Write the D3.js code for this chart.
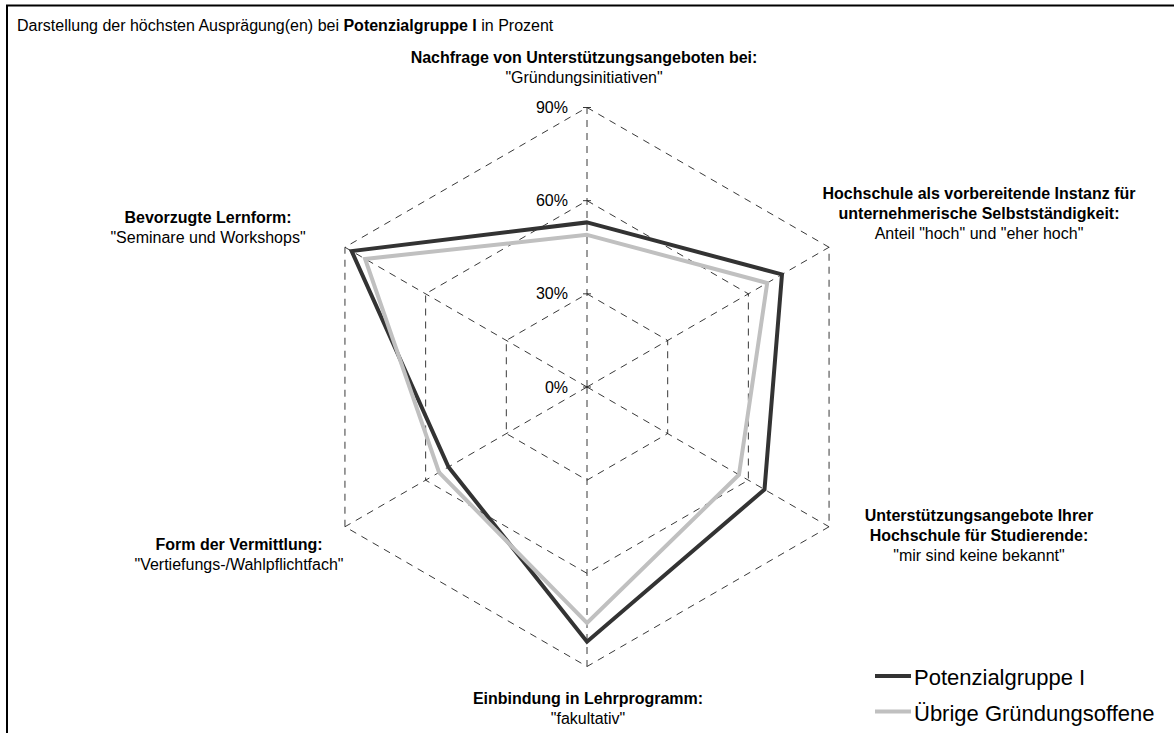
<!DOCTYPE html>
<html><head><meta charset="utf-8">
<script src="https://cdn.jsdelivr.net/npm/d3@7"></script>
<style>body{margin:0;background:#fff}svg{display:block;font-family:"Liberation Sans",Arial,sans-serif}</style>
</head><body>
<svg id="c" width="1174" height="733"></svg>
<script>
const axisTitles = [
  ["Nachfrage von Unterstützungsangeboten bei:"],
  ["Hochschule als vorbereitende Instanz für","unternehmerische Selbstständigkeit:"],
  ["Unterstützungsangebote Ihrer","Hochschule für Studierende:"],
  ["Einbindung in Lehrprogramm:"],
  ["Form der Vermittlung:"],
  ["Bevorzugte Lernform:"]
];
const axisSubtitles = ['"Gründungsinitiativen"','Anteil "hoch" und "eher hoch"','"mir sind keine bekannt"','"fakultativ"','"Vertiefungs-/Wahlpflichtfach"','"Seminare und Workshops"'];
const seriesNames = ["Potenzialgruppe I","Übrige Gründungsoffene"];
const potenzialgruppe = [53, 72.5, 66, 82, 51.5, 87.5];
const uebrige = [49, 67, 56.5, 76, 55, 82.5];
const tickValues = [0, 30, 60, 90];

const svg = d3.select("#c");
const cx = 587, cy = 387, R = 279.5;
const r = d3.scaleLinear().domain([0, 90]).range([0, R]);
const n = axisTitles.length;
const ang = i => i * 2 * Math.PI / n;
const pt = (i, v) => [cx + r(v) * Math.sin(ang(i)), cy - r(v) * Math.cos(ang(i))];

// frame
svg.append("path").attr("d", `M7,740 L7,5.5 L1180,5.5`).attr("fill","none").attr("stroke","#000").attr("stroke-width",2);

// title
const t = svg.append("text").attr("x", 17).attr("y", 31).attr("font-size", 16).attr("fill","#000");
t.append("tspan").text("Darstellung der höchsten Ausprägung(en) bei ");
t.append("tspan").attr("font-weight","bold").text("Potenzialgruppe I");
t.append("tspan").text(" in Prozent");

const grid = svg.append("g").attr("stroke","#222").attr("stroke-width",0.9).attr("stroke-dasharray","7,6").attr("fill","none");
tickValues.filter(v => v > 0).forEach(v => {
  grid.append("path").attr("d", d3.line()(d3.range(n).map(i => pt(i, v))) + "Z");
});
d3.range(n).forEach(i => {
  const p = pt(i, 90);
  grid.append("line").attr("x1", cx).attr("y1", cy).attr("x2", p[0]).attr("y2", p[1]);
});
// ticks on value axis
tickValues.forEach(v => {
  svg.append("line").attr("x1", cx-4).attr("x2", cx+4).attr("y1", cy - r(v)).attr("y2", cy - r(v)).attr("stroke","#222").attr("stroke-width",0.9);
  svg.append("text").attr("x", 568).attr("y", cy - r(v) + 5.5).attr("text-anchor","end").attr("font-size",16).attr("fill","#000").text(v + "%");
});

// series (grey drawn over dark, as in the original)
const line = d3.line();
[[potenzialgruppe, "#333333"], [uebrige, "#c0c0c0"]].forEach(([vals, col]) => {
  svg.append("path").attr("d", line(vals.map((v, i) => pt(i, v))) + "Z")
    .attr("fill","none").attr("stroke", col).attr("stroke-width", 4).attr("stroke-linejoin","miter");
});

// axis labels
const labelPos = [[584, 63], [979, 199], [979, 521], [588, 704], [239, 550], [208, 223]];
labelPos.forEach(([x, y], i) => {
  const g = svg.append("text").attr("x", x).attr("y", y).attr("text-anchor","middle").attr("font-size",16).attr("fill","#000");
  axisTitles[i].forEach((s, k) => g.append("tspan").attr("x", x).attr("dy", k ? 20 : 0).attr("font-weight","bold").text(s));
  g.append("tspan").attr("x", x).attr("dy", 19.5).text(axisSubtitles[i]);
});

// legend
const legCols = ["#333333", "#c0c0c0"];
seriesNames.forEach((s, i) => {
  const y = 676 + i * 35.5;
  svg.append("line").attr("x1", 875).attr("x2", 911).attr("y1", y).attr("y2", y).attr("stroke", legCols[i]).attr("stroke-width", 4);
  svg.append("text").attr("x", 914).attr("y", y + 9).attr("font-size", 22).attr("fill","#000").text(s);
});
</script>
</body></html>
